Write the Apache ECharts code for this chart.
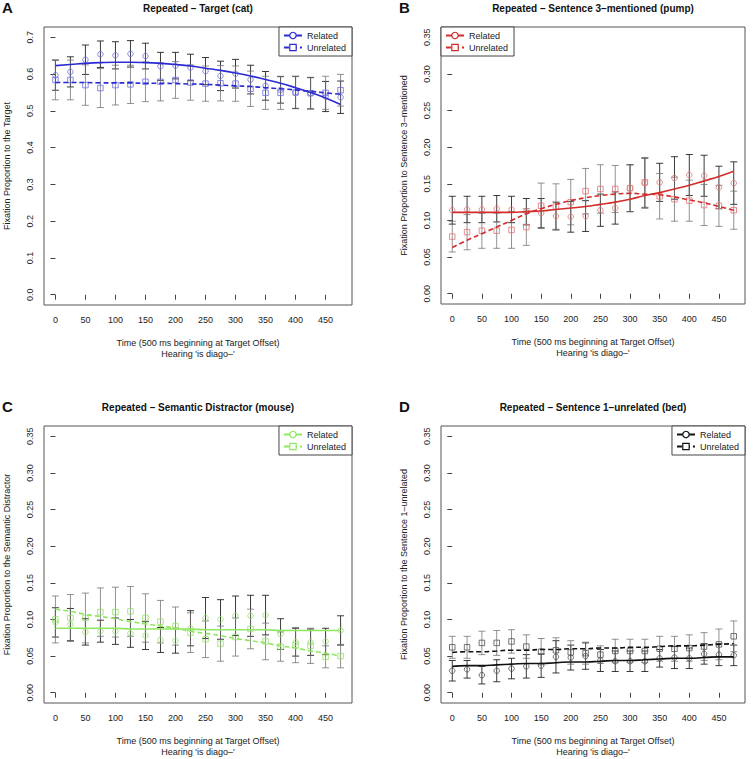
<!DOCTYPE html>
<html><head><meta charset="utf-8">
<script src="https://cdn.jsdelivr.net/npm/echarts@6/dist/echarts.min.js"></script>
<style>html,body{margin:0;padding:0;background:#fff}#c{width:753px;height:759px}</style>
</head><body><div id="c"></div><script>
// ---------- data ----------
const times = [0,25,50,75,100,125,150,175,200,225,250,275,300,325,350,375,400,425,450,475];
const xTickValues = [0,50,100,150,200,250,300,350,400,450];
const yTicksTarget = [0,0.1,0.2,0.3,0.4,0.5,0.6,0.7];
const yTicksOther = [0,0.05,0.1,0.15,0.2,0.25,0.3,0.35];
const seriesNames = ['Related','Unrelated'];
const xName = "Time (500 ms beginning at Target Offset)\nHearing 'is diago\u2013'";

// Panel A: Target (cat)
const titleA = 'Repeated \u2013 Target (cat)';
const yNameA = 'Fixation Proportion to the Target';
const relA = [0.597,0.606,0.639,0.654,0.651,0.655,0.649,0.621,0.623,0.618,0.608,0.595,0.601,0.585,0.568,0.557,0.550,0.548,0.539,0.537];
const unrA = [0.584,0.584,0.570,0.562,0.570,0.572,0.579,0.579,0.584,0.577,0.574,0.575,0.574,0.560,0.549,0.549,0.550,0.548,0.549,0.556];
const relErrA = [0.041,0.041,0.040,0.036,0.037,0.036,0.035,0.038,0.036,0.036,0.037,0.040,0.039,0.039,0.039,0.036,0.044,0.043,0.041,0.044];
const unrErrA = [0.054,0.054,0.055,0.053,0.054,0.052,0.054,0.052,0.050,0.048,0.048,0.048,0.048,0.048,0.045,0.045,0.043,0.042,0.045,0.043];
const relFitA = [0.623,0.626,0.629,0.631,0.632,0.632,0.631,0.629,0.626,0.622,0.616,0.610,0.603,0.595,0.585,0.575,0.563,0.550,0.535,0.517];
const unrFitA = [0.577,0.577,0.577,0.576,0.576,0.576,0.575,0.575,0.574,0.573,0.572,0.570,0.568,0.566,0.563,0.560,0.557,0.553,0.549,0.545];

// Panel B: Sentence 3-mentioned (pump)
const titleB = 'Repeated \u2013 Sentence 3\u2013mentioned (pump)';
const yNameB = 'Fixation Proportion to Sentence 3\u2013mentioned';
const relB = [0.114,0.115,0.115,0.116,0.115,0.112,0.110,0.106,0.105,0.106,0.114,0.117,0.144,0.151,0.152,0.158,0.162,0.161,0.145,0.151];
const unrB = [0.078,0.084,0.086,0.086,0.087,0.091,0.120,0.119,0.125,0.140,0.143,0.143,0.144,0.152,0.133,0.129,0.127,0.121,0.120,0.114];
const relErrB = [0.019,0.018,0.018,0.018,0.018,0.018,0.020,0.019,0.021,0.021,0.022,0.022,0.032,0.034,0.026,0.029,0.028,0.028,0.029,0.029];
const unrErrB = [0.021,0.024,0.024,0.024,0.025,0.025,0.031,0.031,0.031,0.031,0.033,0.032,0.032,0.034,0.031,0.030,0.028,0.028,0.028,0.026];
const relFitB = [0.111,0.111,0.111,0.111,0.111,0.112,0.113,0.115,0.117,0.119,0.122,0.125,0.129,0.134,0.138,0.143,0.148,0.154,0.160,0.167];
const unrFitB = [0.063,0.073,0.082,0.091,0.100,0.109,0.116,0.122,0.127,0.131,0.134,0.136,0.137,0.136,0.135,0.132,0.128,0.124,0.119,0.114];

// Panel C: Semantic Distractor (mouse)
const titleC = 'Repeated \u2013 Semantic Distractor (mouse)';
const yNameC = 'Fixation Proportion to the Semantic Distractor';
const relC = [0.096,0.093,0.083,0.084,0.084,0.081,0.078,0.072,0.071,0.088,0.102,0.100,0.105,0.105,0.106,0.080,0.069,0.069,0.070,0.085];
const unrC = [0.100,0.102,0.102,0.110,0.110,0.111,0.102,0.097,0.091,0.082,0.073,0.067,0.076,0.087,0.070,0.063,0.065,0.064,0.049,0.050];
const relErrC = [0.020,0.022,0.018,0.015,0.018,0.019,0.019,0.017,0.017,0.024,0.028,0.027,0.027,0.028,0.027,0.021,0.019,0.018,0.018,0.020];
const unrErrC = [0.032,0.032,0.034,0.033,0.034,0.034,0.033,0.029,0.026,0.027,0.025,0.024,0.026,0.027,0.025,0.020,0.024,0.024,0.015,0.016];
const relFitC = [0.088,0.088,0.088,0.088,0.088,0.087,0.087,0.087,0.087,0.087,0.086,0.086,0.086,0.086,0.086,0.085,0.085,0.085,0.085,0.085];
const unrFitC = [0.114,0.111,0.107,0.104,0.101,0.097,0.094,0.091,0.088,0.084,0.081,0.078,0.074,0.071,0.068,0.064,0.061,0.057,0.054,0.050];

// Panel D: Sentence 1-unrelated (bed)
const titleD = 'Repeated \u2013 Sentence 1\u2013unrelated (bed)';
const yNameD = 'Fixation Proportion to the Sentence 1\u2013unrelated';
const relD = [0.030,0.032,0.024,0.030,0.033,0.036,0.037,0.049,0.048,0.050,0.044,0.043,0.043,0.043,0.047,0.048,0.047,0.053,0.052,0.051];
const unrD = [0.062,0.062,0.068,0.068,0.070,0.063,0.056,0.058,0.055,0.054,0.052,0.057,0.057,0.057,0.060,0.060,0.061,0.063,0.066,0.077];
const relErrD = [0.014,0.012,0.012,0.015,0.014,0.016,0.016,0.022,0.017,0.018,0.015,0.014,0.014,0.014,0.012,0.015,0.014,0.014,0.015,0.014];
const unrErrD = [0.015,0.015,0.016,0.017,0.016,0.016,0.018,0.017,0.016,0.015,0.012,0.016,0.016,0.016,0.017,0.017,0.018,0.019,0.021,0.021];
const relFitD = [0.036,0.037,0.037,0.038,0.039,0.040,0.040,0.041,0.042,0.042,0.043,0.044,0.044,0.045,0.046,0.047,0.047,0.048,0.049,0.049];
const unrFitD = [0.055,0.056,0.056,0.057,0.058,0.058,0.059,0.059,0.060,0.060,0.061,0.061,0.062,0.062,0.063,0.064,0.064,0.065,0.066,0.067];

// ---------- layout / style ----------
const FONT = '"Liberation Sans", Arial, Helvetica, sans-serif';
const W = 753;
const panels = [
  {key:'A', title:titleA, yName:yNameA, rel:relA, unr:unrA, relErr:relErrA, unrErr:unrErrA, relFit:relFitA, unrFit:unrFitA,
   yTicks:yTicksTarget, yMin:-0.028, yMax:0.728, dec:1, line:'#2b2bd3', pt:'#6d6de2',
   grid:{left:44, top:27, width:308, height:278}, legend:{right:W-352, top:27}},
  {key:'B', title:titleB, yName:yNameB, rel:relB, unr:unrB, relErr:relErrB, unrErr:unrErrB, relFit:relFitB, unrFit:unrFitB,
   yTicks:yTicksOther, yMin:-0.014, yMax:0.364, dec:2, line:'#d42b2b', pt:'#e07272',
   grid:{left:441, top:27, width:304, height:277}, legend:{left:441, top:27}},
  {key:'C', title:titleC, yName:yNameC, rel:relC, unr:unrC, relErr:relErrC, unrErr:unrErrC, relFit:relFitC, unrFit:unrFitC,
   yTicks:yTicksOther, yMin:-0.014, yMax:0.364, dec:2, line:'#8ee85c', pt:'#94e068',
   grid:{left:44, top:426, width:308, height:277}, legend:{right:W-352, top:426}},
  {key:'D', title:titleD, yName:yNameD, rel:relD, unr:unrD, relErr:relErrD, unrErr:unrErrD, relFit:relFitD, unrFit:unrFitD,
   yTicks:yTicksOther, yMin:-0.014, yMax:0.364, dec:2, line:'#111111', pt:'#505050',
   grid:{left:441, top:426, width:304, height:277}, legend:{right:W-745, top:426}}
];

function errRender(params, api) {
  const x = api.value(0), lo = api.value(1), hi = api.value(2);
  const pT = api.coord([x, hi]), pB = api.coord([x, lo]);
  const w = 3.5;
  const style = {stroke: api.visual('color'), lineWidth: 1, fill: null};
  return {type:'group', children:[
    {type:'line', shape:{x1:pT[0], y1:pT[1], x2:pB[0], y2:pB[1]}, style:style},
    {type:'line', shape:{x1:pT[0]-w, y1:pT[1], x2:pT[0]+w, y2:pT[1]}, style:style},
    {type:'line', shape:{x1:pB[0]-w, y1:pB[1], x2:pB[0]+w, y2:pB[1]}, style:style}
  ]};
}

const grids = [], xAxes = [], yAxes = [], series = [], legends = [], graphics = [];
panels.forEach((p, gi) => {
  grids.push(Object.assign({show:true, borderColor:'#555', borderWidth:1, backgroundColor:'transparent'}, p.grid));
  xAxes.push({type:'value', gridIndex:gi, min:-19, max:494,
    axisLine:{show:false}, splitLine:{show:false},
    axisTick:{show:true, customValues:xTickValues, length:5, lineStyle:{color:'#444'}},
    axisLabel:{customValues:xTickValues, margin:10, fontSize:9, color:'#222', fontFamily:FONT},
    name:xName, nameLocation:'middle', nameGap:32,
    nameTextStyle:{fontSize:9, lineHeight:11.5, color:'#222', fontFamily:FONT}});
  yAxes.push({type:'value', gridIndex:gi, min:p.yMin, max:p.yMax,
    axisLine:{show:false}, splitLine:{show:false},
    axisTick:{show:true, customValues:p.yTicks, length:5, lineStyle:{color:'#444'}},
    axisLabel:{customValues:p.yTicks, rotate:90, margin:10, fontSize:9, color:'#222', fontFamily:FONT,
      formatter:(v)=>Number(v).toFixed(p.dec)},
    name:p.yName, nameLocation:'middle', nameGap:33, nameRotate:90,
    nameTextStyle:{fontSize:9, color:'#222', fontFamily:FONT}});

  const groups = [
    {name:seriesNames[0], m:p.rel, e:p.relErr, f:p.relFit, sym:'circle', dash:'solid', ebc:'rgba(25,25,25,0.85)'},
    {name:seriesNames[1], m:p.unr, e:p.unrErr, f:p.unrFit, sym:'rect', dash:[5,3], ebc:'rgba(110,110,110,0.75)'}
  ];
  groups.forEach(g => {
    series.push({type:'custom', name:p.key+'|'+g.name+' err', xAxisIndex:gi, yAxisIndex:gi, z:2,
      itemStyle:{color:g.ebc}, renderItem:errRender, encode:{x:0, y:[1,2]},
      data: times.map((t,i)=>[t, g.m[i]-g.e[i], g.m[i]+g.e[i]])});
  });
  groups.forEach(g => {
    series.push({type:'scatter', name:p.key+'|'+g.name+' pts', xAxisIndex:gi, yAxisIndex:gi, z:3,
      symbol:g.sym, symbolSize:5.5,
      itemStyle:{color:'rgba(0,0,0,0)', borderColor:p.pt, borderWidth:1},
      data: times.map((t,i)=>[t, g.m[i]])});
  });
  groups.forEach(g => {
    series.push({type:'line', name:p.key+'|'+g.name, xAxisIndex:gi, yAxisIndex:gi, z:4,
      smooth:true, showSymbol:false, symbol:g.sym, symbolSize:6,
      itemStyle:{color:'#ffffff', borderColor:p.line, borderWidth:1},
      lineStyle:{color:p.line, width:1.6, type:g.dash},
      data: times.map((t,i)=>[t, g.f[i]])});
  });
  legends.push(Object.assign({
    orient:'vertical', selectedMode:false, data:[p.key+'|Related', p.key+'|Unrelated'],
    formatter:(n)=>n.split('|')[1],
    backgroundColor:'#fff', borderColor:'#444', borderWidth:1, borderRadius:0,
    padding:[4,6,4,4], itemGap:3, itemWidth:18, itemHeight:8,
    itemStyle:{borderWidth:1.2, borderColor:p.line, color:'#ffffff'},
    textStyle:{fontSize:9, color:'#222', fontFamily:FONT}
  }, p.legend));

  const cx = p.grid.left + p.grid.width/2;
  graphics.push({type:'text', x:cx, y:p.grid.top-24, style:{text:p.title, align:'center', verticalAlign:'top',
    font:'bold 10px '+FONT, fill:'#111'}});
  graphics.push({type:'text', x:p.grid.left-42, y:p.grid.top-27, style:{text:p.key, align:'left', verticalAlign:'top',
    font:'bold 15px '+FONT, fill:'#111'}});
});

const chart = echarts.init(document.getElementById('c'), null, {renderer:'svg'});
chart.setOption({
  animation:false, backgroundColor:'#fff',
  grid:grids, xAxis:xAxes, yAxis:yAxes, legend:legends, series:series, graphic:graphics
});
</script></body></html>
